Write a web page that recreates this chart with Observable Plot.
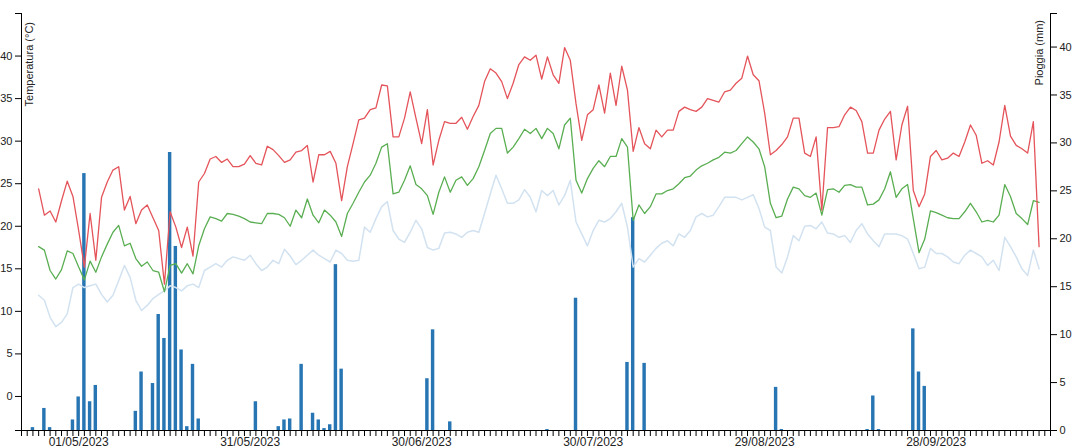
<!DOCTYPE html>
<html>
<head>
<meta charset="utf-8">
<script src="https://cdn.jsdelivr.net/npm/d3@7"></script>
<script src="https://cdn.jsdelivr.net/npm/@observablehq/plot@0.6"></script>
<style>
  html, body { margin: 0; padding: 0; background: #fff; }
  #chart svg { overflow: visible; display: block; }
</style>
</head>
<body>
<div id="chart"></div>
<script>
// Daily temperatures (°C), one value per day starting from firstDay
const firstDay = "2023-04-24";
const tMax = [
  24.4, 21.3, 21.8, 20.5, 23.0, 25.3, 23.5,
  19.5, 15.2, 21.5, 16.0, 23.4, 25.2, 26.6, 27.0, 21.9, 23.5,
  20.3, 21.9, 22.5, 21.0, 19.5, 13.2, 21.7, 19.9, 17.5, 19.9,
  16.5, 25.2, 26.2, 27.9, 28.2, 27.5, 27.9, 27.0, 27.0, 27.3,
  28.3, 27.4, 27.2, 29.4, 29.0, 28.3, 27.5, 27.8, 28.7, 28.9,
  29.5, 25.2, 28.4, 28.4, 28.8, 27.4, 23.0, 27.0, 29.7, 32.5,
  32.7, 33.7, 33.9, 36.6, 36.5, 30.5, 30.5, 32.7, 35.8, 32.7,
  29.7, 33.7, 27.2, 30.1, 32.3, 32.1, 32.1, 32.8, 31.4, 32.9,
  34.2, 37.0, 38.5, 38.0, 37.0, 35.0, 36.8, 39.0, 39.9, 39.5,
  40.1, 37.3, 39.9, 37.8, 36.8, 41.0, 39.5, 34.4, 30.1, 33.1,
  33.7, 36.6, 33.3, 38.0, 34.2, 38.8, 36.0, 28.8, 31.6, 29.7,
  29.1, 31.3, 30.5, 31.3, 31.3, 33.5, 34.0, 33.7, 33.5, 34.0,
  35.0, 34.8, 34.6, 35.8, 36.0, 36.8, 37.4, 40.0, 37.8, 37.1,
  33.3, 28.4, 28.9, 29.6, 30.5, 32.7, 32.7, 28.6, 28.2, 30.5,
  21.9, 31.6, 31.6, 31.7, 33.1, 34.0, 33.6, 32.3, 28.6, 28.6,
  31.3, 32.6, 33.5, 27.8, 31.9, 34.1, 24.2, 22.3, 23.8, 28.2,
  28.9, 27.8, 28.0, 28.6, 28.2, 29.9, 31.9, 30.7, 27.4, 27.7,
  27.2, 29.9, 34.2, 30.6, 29.5, 29.1, 28.6, 32.3, 17.6
];
const tMean = [
  17.6, 17.2, 14.8, 13.8, 14.9, 17.1, 16.8,
  15.2, 13.7, 15.9, 14.6, 16.4, 17.9, 19.3, 20.1, 17.7, 18.0,
  16.2, 15.3, 15.8, 14.8, 14.6, 12.3, 15.4, 15.6, 14.5, 15.6,
  14.4, 17.7, 19.7, 21.1, 20.9, 20.6, 21.5, 21.4, 21.2, 20.9,
  20.5, 20.4, 20.3, 21.5, 21.5, 21.4, 21.0, 20.0, 21.9, 21.0,
  23.2, 21.3, 20.4, 21.9, 21.3, 20.5, 18.8, 21.5, 22.7, 24.0,
  25.2, 26.0, 27.4, 29.3, 29.7, 23.8, 24.0, 25.4, 27.1, 24.9,
  24.4, 23.6, 21.4, 24.0, 25.8, 24.0, 25.4, 25.8, 24.8, 25.6,
  27.0, 28.9, 30.9, 31.5, 31.5, 28.6, 29.3, 30.3, 31.4, 30.9,
  31.5, 30.3, 31.5, 30.9, 29.1, 31.9, 32.7, 25.4, 23.9, 25.6,
  26.8, 27.7, 27.0, 28.2, 28.2, 30.3, 29.3, 20.7, 22.5, 21.5,
  22.3, 23.8, 23.8, 24.2, 24.4, 25.0, 25.7, 25.9, 26.6, 27.1,
  27.4, 27.8, 28.1, 28.7, 28.6, 28.9, 29.7, 30.5, 29.9, 29.1,
  27.0, 22.7, 21.0, 21.2, 23.2, 24.6, 24.4, 23.6, 23.4, 23.9,
  21.3, 24.3, 24.4, 24.0, 24.8, 24.9, 24.6, 24.6, 22.5, 22.6,
  23.1, 24.4, 26.4, 23.4, 24.4, 24.9, 20.9, 16.9, 18.5, 21.8,
  21.6, 21.3, 21.0, 20.9, 20.9, 21.7, 22.7, 21.7, 20.5, 20.7,
  20.5, 21.3, 24.9, 23.5, 21.5, 20.9, 20.2, 23.0, 22.8
];
const tMin = [
  11.9, 11.3, 9.3, 8.2, 8.7, 9.7, 12.8,
  13.2, 12.8, 13.0, 13.2, 12.0, 11.1, 11.9, 13.6, 15.4, 14.0,
  11.3, 10.1, 10.7, 11.5, 12.0, 12.4, 13.0, 12.8, 12.4, 13.0,
  13.2, 12.8, 14.8, 15.2, 15.6, 15.2, 16.0, 16.4, 16.2, 16.0,
  16.6, 15.6, 14.8, 15.2, 16.0, 15.6, 17.3, 16.5, 15.5, 16.0,
  16.6, 17.2, 16.6, 16.2, 15.8, 17.2, 16.8, 16.0, 15.9, 16.0,
  19.9, 19.3, 20.9, 22.3, 22.9, 19.5, 18.5, 18.1, 19.3, 20.7,
  19.7, 17.5, 17.2, 17.4, 19.2, 19.3, 19.1, 18.7, 19.3, 19.5,
  19.3, 21.5, 23.8, 26.0, 24.4, 22.7, 22.7, 23.1, 24.3, 23.4,
  21.7, 24.2, 23.6, 24.2, 22.5, 23.6, 25.4, 20.5, 19.1, 17.7,
  19.5, 20.7, 20.5, 20.9, 21.7, 22.7, 19.9, 15.2, 16.2, 15.8,
  16.6, 17.4, 18.0, 18.3, 17.7, 19.1, 18.7, 19.5, 21.1, 21.5,
  21.1, 21.3, 22.3, 23.4, 23.4, 23.4, 23.1, 23.4, 23.7, 22.1,
  19.9, 19.5, 15.2, 14.5, 16.4, 18.9, 18.3, 20.0, 20.1, 19.7,
  20.5, 19.2, 19.1, 18.7, 18.9, 18.1, 19.5, 20.3, 19.1, 18.3,
  17.6, 19.1, 19.1, 19.1, 18.9, 18.5, 16.8, 15.0, 15.2, 17.4,
  16.8, 16.8, 16.4, 15.8, 15.6, 16.6, 17.2, 16.8, 16.4, 15.4,
  16.0, 14.8, 18.7, 17.6, 16.4, 15.0, 14.2, 17.2, 15.0
];

// Rainy days and daily rainfall (mm)
const rainDays = [
  "2023-04-23", "2023-04-25", "2023-04-26", "2023-04-30", "2023-05-01",
  "2023-05-02", "2023-05-03", "2023-05-04", "2023-05-11", "2023-05-12",
  "2023-05-14", "2023-05-15", "2023-05-16", "2023-05-17", "2023-05-18",
  "2023-05-19", "2023-05-20", "2023-05-21", "2023-05-22", "2023-06-01",
  "2023-06-05", "2023-06-06", "2023-06-07", "2023-06-09", "2023-06-11",
  "2023-06-12", "2023-06-13", "2023-06-14", "2023-06-15", "2023-06-16",
  "2023-07-01", "2023-07-02", "2023-07-05", "2023-07-22", "2023-07-27",
  "2023-08-05", "2023-08-06", "2023-08-08", "2023-08-31", "2023-09-01",
  "2023-09-16", "2023-09-17", "2023-09-18", "2023-09-24", "2023-09-25",
  "2023-09-26"
];
const rainMm = [
  0.3, 2.3, 0.3, 1.1, 3.5,
  26.8, 3.0, 4.7, 2.0, 6.1,
  4.9, 12.1, 9.6, 29.0, 19.2,
  8.4, 0.4, 6.9, 1.2, 3.0,
  0.4, 1.1, 1.2, 6.9, 1.8,
  1.1, 0.2, 0.6, 17.3, 6.4,
  5.4, 10.5, 0.9, 0.1, 13.8,
  7.1, 22.2, 7.0, 4.5, 0.1,
  0.1, 3.6, 0.1, 10.6, 6.1,
  4.6
];

// Axes
const xStartDay = "2023-04-21";
const xEndDay = "2023-10-18";
const dateLabels = ["2023-05-01", "2023-05-31", "2023-06-30", "2023-07-30", "2023-08-29", "2023-09-28"];
const tempTicks = [0, 5, 10, 15, 20, 25, 30, 35, 40];
const rainTicks = [0, 5, 10, 15, 20, 25, 30, 35, 40];
const tempExtent = [-4, 45];
const rainTop = 43.5;

const DAY = 864e5;
const parse = s => new Date(s + "T00:00:00Z");
const start = parse(firstDay);
const xStart = parse(xStartDay);
const xEnd = parse(xEndDay);

const temps = tMax.map((v, i) => ({
  date: d3.utcDay.offset(start, i),
  max: v, mean: tMean[i], min: tMin[i]
}));
const rain = rainDays.map((s, i) => ({date: parse(s), mm: rainMm[i]}));

// rainfall shares the temperature y scale through a linear mapping
const [tLow, tHigh] = tempExtent;
const k = (tHigh - tLow) / rainTop;
const rainToY = mm => tLow + mm * k;
const yToRain = y => Math.round((y - tLow) / k);

const labelSet = new Set(dateLabels.map(s => +parse(s)));
const fmt = d3.utcFormat("%d/%m/%Y");
const dayTicks = d3.utcDay.range(xStart, d3.utcDay.offset(xEnd, 1));

const fontFamily = "'Liberation Sans', Arial, sans-serif";

const chart = Plot.plot({
  width: 1073,
  height: 448,
  marginLeft: 21,
  marginRight: 23,
  marginTop: 13,
  marginBottom: 18,
  style: {fontFamily, fontSize: "11px", background: "#fff", color: "#222", overflow: "visible"},
  x: {type: "utc", domain: [xStart, xEnd]},
  y: {domain: tempExtent},
  marks: [
    Plot.rect(rain, {
      x1: d => new Date(+d.date - 0.3 * DAY),
      x2: d => new Date(+d.date + 0.3 * DAY),
      y1: tLow,
      y2: d => rainToY(d.mm),
      fill: "#2776b3"
    }),
    Plot.line(temps, {x: "date", y: "min", stroke: "#d2e2f0", strokeWidth: 1.5}),
    Plot.line(temps, {x: "date", y: "mean", stroke: "#5aae52", strokeWidth: 1.3}),
    Plot.line(temps, {x: "date", y: "max", stroke: "#e4545a", strokeWidth: 1.3}),
    Plot.ruleX([xStart, xEnd], {stroke: "#000", strokeWidth: 1}),
    Plot.ruleY([tLow], {stroke: "#000", strokeWidth: 1}),
    Plot.axisY({
      anchor: "left",
      ticks: [tLow, ...tempTicks, tHigh],
      tickFormat: v => tempTicks.includes(v) ? String(v) : "",
      tickSize: 6, tickPadding: 3, label: null, fontSize: 11, stroke: "#000"
    }),
    Plot.axisY({
      anchor: "right",
      ticks: [...rainTicks.map(rainToY), tHigh],
      tickFormat: v => v === tHigh ? "" : String(yToRain(v)),
      tickSize: 6, tickPadding: 3, label: null, fontSize: 11, stroke: "#000"
    }),
    Plot.axisX({
      ticks: dayTicks,
      tickFormat: d => labelSet.has(+d) ? fmt(d) : "",
      tickSize: 6, tickPadding: 1, label: null, fontSize: 12, stroke: "#000"
    })
  ]
});

const svg = d3.select(chart);
svg.append("text")
  .attr("transform", "translate(33,22) rotate(-90)")
  .attr("text-anchor", "end")
  .attr("font-family", fontFamily)
  .attr("font-size", 11)
  .attr("fill", "#222")
  .text("Temperatura (°C)");
svg.append("text")
  .attr("transform", "translate(1043,20) rotate(-90)")
  .attr("text-anchor", "end")
  .attr("font-family", fontFamily)
  .attr("font-size", 11)
  .attr("fill", "#222")
  .text("Pioggia (mm)");

document.getElementById("chart").appendChild(chart);
</script>
</body>
</html>
